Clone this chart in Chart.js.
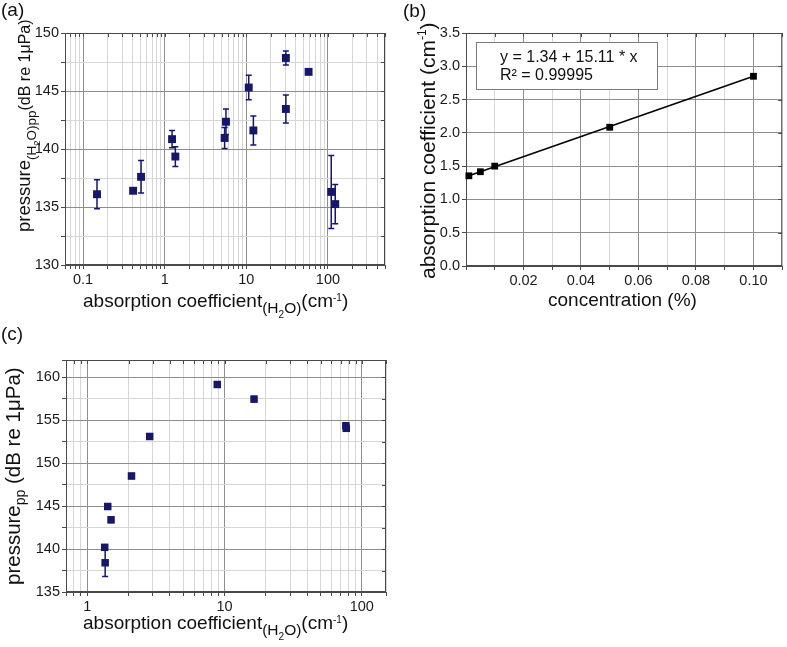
<!DOCTYPE html>
<html>
<head>
<meta charset="utf-8">
<script src="https://cdn.jsdelivr.net/npm/chart.js@4.4.1/dist/chart.umd.min.js"></script>
<style>
body { margin: 0; background: #fff; }
#wrap { position: relative; width: 787px; height: 647px; }
canvas { position: absolute; left: 0; top: 0; }
</style>
</head>
<body>
<div id="wrap">
<canvas id="ca" width="787" height="647"></canvas>
<canvas id="cb" width="787" height="647"></canvas>
<canvas id="cc" width="787" height="647"></canvas>
</div>
<script>
// panel (a): pressure vs absorption coefficient (log x)
let aX = [0.148, 0.41, 0.513, 1.23, 1.35, 5.42, 5.63, 10.7, 12.2, 30.5, 30.5, 57.9, 109.7, 122.8];
let aY = [136.1, 136.4, 137.6, 140.85, 139.35, 140.95, 142.35, 145.3, 141.6, 147.85, 143.45, 146.65, 136.3, 135.25];
let aErr = [1.25, 0.2, 1.4, 0.75, 0.85, 0.9, 1.1, 1.05, 1.25, 0.6, 1.2, 0.2, 3.15, 1.7];

// panel (b): absorption coefficient vs concentration + linear fit
let bX = [0.001, 0.005, 0.01, 0.05, 0.1];
let bY = [1.355, 1.416, 1.50, 2.084, 2.85];
let fitX = [0.001, 0.1];
let fitY = [1.355, 2.851];
let fitText = ['y = 1.34 + 15.11 * x', 'R\u00b2 = 0.99995'];

// panel (c)
let cX = [1.34, 1.35, 1.41, 1.49, 2.10, 2.85, 8.85, 16.4, 76.5, 77];
let cY = [140.2, 138.4, 144.95, 143.4, 148.5, 153.1, 159.15, 157.45, 154.35, 154.05];
let cErr = [0.3, 1.6, 0.3, 0.3, 0.3, 0.3, 0.3, 0.3, 0.3, 0.3];

// tick ranges
let aXRange = [0.06, 500];
let cXRange = [0.7, 150];
let logLabels = [0.1, 1, 10, 100];

const FONT = '"Liberation Sans", Arial, sans-serif';
const NAVY = '#16166a';
const MAJOR = '#8e8e8e';
const MINOR = '#d6d6d6';

function logTicks(min, max) {
    let out = [min];
    for (let e = -2; e <= 3; e++) {
        for (let s = 1; s <= 9; s++) {
            let v = +(s * Math.pow(10, e)).toPrecision(6);
            if (v > min && v < max) out.push(v);
        }
    }
    out.push(max);
    return out;
}
function isDecade(v) {
    let l = Math.log10(v);
    return Math.abs(l - Math.round(l)) < 1e-9;
}

function richText(ctx, parts, x, y, rot) {
    ctx.save();
    ctx.translate(x, y);
    if (rot) ctx.rotate(-Math.PI / 2);
    ctx.fillStyle = '#111';
    ctx.textBaseline = 'alphabetic';
    ctx.textAlign = 'left';
    let cx = 0;
    parts.forEach(p => {
        ctx.font = p[1] + 'px ' + FONT;
        ctx.fillText(p[0], cx, p[2]);
        cx += ctx.measureText(p[0]).width;
    });
    ctx.restore();
}

const errorBars = {
    id: 'errorBars',
    beforeDatasetsDraw(chart, args, opts) {
        if (!opts.err) return;
        const { ctx } = chart;
        const x = chart.scales.x, y = chart.scales.y;
        const pts = chart.data.datasets[0].data;
        ctx.save();
        ctx.strokeStyle = NAVY;
        ctx.lineWidth = 1.5;
        pts.forEach((p, i) => {
            let e = opts.err[i];
            if (!e) return;
            let px = x.getPixelForValue(p.x);
            let t = y.getPixelForValue(p.y + e), b = y.getPixelForValue(p.y - e);
            ctx.beginPath();
            ctx.moveTo(px, t); ctx.lineTo(px, b);
            ctx.moveTo(px - 3, t); ctx.lineTo(px + 3, t);
            ctx.moveTo(px - 3, b); ctx.lineTo(px + 3, b);
            ctx.stroke();
        });
        ctx.restore();
    }
};

const frame = {
    id: 'frame',
    beforeDatasetsDraw(chart) {
        const { ctx, chartArea: a } = chart;
        ctx.save();
        ctx.strokeStyle = '#4a4a4a';
        ctx.lineWidth = 1;
        ctx.strokeRect(a.left + 0.5, a.top + 0.5, a.right - a.left - 1, a.bottom - a.top - 1);
        ctx.beginPath();
        chart.scales.x.ticks.forEach(t => {
            let px = Math.round(chart.scales.x.getPixelForValue(t.value)) + 0.5;
            ctx.moveTo(px, a.top); ctx.lineTo(px, a.top + 4);
        });
        chart.scales.y.ticks.forEach(t => {
            let py = Math.round(chart.scales.y.getPixelForValue(t.value)) + 0.5;
            ctx.moveTo(a.right, py); ctx.lineTo(a.right - 4, py);
        });
        ctx.stroke();
        ctx.restore();
    }
};

const texts = {
    id: 'texts',
    afterDraw(chart, args, opts) {
        const ctx = chart.ctx;
        if (opts.box) {
            let b = opts.box;
            ctx.save();
            ctx.fillStyle = '#fff';
            ctx.strokeStyle = '#7a7a7a';
            ctx.lineWidth = 1;
            ctx.fillRect(b[0], b[1], b[2], b[3]);
            ctx.strokeRect(b[0] + 0.5, b[1] + 0.5, b[2], b[3]);
            ctx.restore();
        }
        (opts.items || []).forEach(it => richText(ctx, it.parts, it.x, it.y, it.rot));
    }
};

function gridColor(major) {
    return c => (c.tick && major(c.tick.value)) ? MAJOR : MINOR;
}

function axisBase(extra) {
    return Object.assign({
        border: { display: true, color: '#4a4a4a' },
        grid: { tickLength: 4, tickColor: '#4a4a4a', lineWidth: 1 },
        ticks: { color: '#1a1a1a', font: { family: FONT, size: 14.5 }, autoSkip: false, maxRotation: 0, padding: 2 }
    }, extra);
}

function makeChart(id, cfg) {
    return new Chart(document.getElementById(id), {
        type: 'scatter',
        data: { datasets: cfg.datasets },
        options: {
            responsive: false,
            animation: false,
            events: [],
            layout: { padding: cfg.pad },
            plugins: { legend: { display: false }, tooltip: { enabled: false },
                errorBars: { err: cfg.err }, texts: cfg.texts },
            scales: { x: cfg.x, y: cfg.y }
        },
        plugins: [frame, errorBars, texts]
    });
}

// ---------- (a)
let aTicks = logTicks(aXRange[0], aXRange[1]);
let chartA = makeChart('ca', {
    pad: { left: 25, right: 402, top: 33, bottom: 354 },
    datasets: [{
        data: aX.map((x, i) => ({ x: x, y: aY[i] })),
        pointStyle: 'rect', pointRadius: 5.6, borderWidth: 0,
        backgroundColor: NAVY, clip: false
    }],
    err: aErr,
    x: axisBase({
        type: 'logarithmic', min: aXRange[0], max: aXRange[1],
        afterBuildTicks: s => { s.ticks = aTicks.map(v => ({ value: v })); },
        afterFit: s => { s.height = 28; },
        grid: { tickLength: 4, tickColor: '#4a4a4a', color: gridColor(isDecade) },
        ticks: { color: '#1a1a1a', font: { family: FONT, size: 14.5 }, autoSkip: false, maxRotation: 0, padding: 2,
            callback: v => logLabels.includes(v) ? String(v) : '' }
    }),
    y: axisBase({
        type: 'linear', min: 130, max: 150,
        afterFit: s => { s.width = 40; },
        grid: { tickLength: 4, tickColor: '#4a4a4a', color: gridColor(v => v % 5 === 0) },
        ticks: { color: '#1a1a1a', font: { family: FONT, size: 14.5 }, stepSize: 2.5, padding: 2,
            callback: v => v % 5 === 0 ? String(v) : '' }
    }),
    texts: { items: [
        { parts: [['(a)', 19, 0]], x: 1, y: 16 },
        { parts: [['absorption coefficient', 19, 0], ['(H', 15.5, 6], ['2', 10, 11], ['O)', 15.5, 6], ['(cm', 19, 0], ['-1', 10, -6], [')', 19, 0]], x: 83, y: 307 },
        { parts: [['pressure', 18.5, 0], ['(H', 13.5, 6], ['2', 9.5, 10], ['O)pp', 13.5, 6], ['(dB re 1\u03bcPa)', 16, 0]], x: 30, y: 232, rot: true }
    ] }
});

// ---------- (b)
let chartB = makeChart('cb', {
    pad: { left: 426, right: 2, top: 33, bottom: 353 },
    datasets: [{
        data: bX.map((x, i) => ({ x: x, y: bY[i] })),
        pointStyle: 'rect', pointRadius: 4.8, borderWidth: 0,
        backgroundColor: '#000', clip: false
    }, {
        data: fitX.map((x, i) => ({ x: x, y: fitY[i] })),
        showLine: true, borderColor: '#000', borderWidth: 1.5, pointRadius: 0
    }],
    x: axisBase({
        type: 'linear', min: 0, max: 0.11,
        afterFit: s => { s.height = 28; },
        grid: { tickLength: 4, tickColor: '#4a4a4a', color: gridColor(v => Math.round(v * 100) % 2 === 0) },
        ticks: { color: '#1a1a1a', font: { family: FONT, size: 14.5 }, stepSize: 0.01, autoSkip: false, maxRotation: 0, padding: 2,
            callback: v => { let k = Math.round(v * 100); return (k > 0 && k % 2 === 0) ? (k / 100).toFixed(2) : ''; } }
    }),
    y: axisBase({
        type: 'linear', min: 0, max: 3.5,
        afterFit: s => { s.width = 40; },
        grid: { tickLength: 4, tickColor: '#4a4a4a', color: gridColor(v => Math.round(v * 4) % 2 === 0) },
        ticks: { color: '#1a1a1a', font: { family: FONT, size: 14.5 }, stepSize: 0.25, padding: 2,
            callback: v => Math.round(v * 4) % 2 === 0 ? v.toFixed(1) : '' }
    }),
    texts: {
        box: [476, 42, 181, 47],
        items: [
            { parts: [['(b)', 19, 0]], x: 403, y: 17 },
            { parts: [[fitText[0], 16, 0]], x: 500, y: 62 },
            { parts: [[fitText[1], 16, 0]], x: 500, y: 80 },
            { parts: [['concentration (%)', 19, 0]], x: 548, y: 306 },
            { parts: [['absorption coefficient (cm', 21, 0], ['-1', 12, -9], [')', 21, 0]], x: 435, y: 279, rot: true }
        ]
    }
});

// ---------- (c)
let cTicks = logTicks(cXRange[0], cXRange[1]);
let chartC = makeChart('cc', {
    pad: { left: 26, right: 401, top: 360, bottom: 27 },
    datasets: [{
        data: cX.map((x, i) => ({ x: x, y: cY[i] })),
        pointStyle: 'rect', pointRadius: 5.3, borderWidth: 0,
        backgroundColor: NAVY, clip: false
    }],
    err: cErr,
    x: axisBase({
        type: 'logarithmic', min: cXRange[0], max: cXRange[1],
        afterBuildTicks: s => { s.ticks = cTicks.map(v => ({ value: v })); },
        afterFit: s => { s.height = 28; },
        grid: { tickLength: 4, tickColor: '#4a4a4a', color: gridColor(isDecade) },
        ticks: { color: '#1a1a1a', font: { family: FONT, size: 14.5 }, autoSkip: false, maxRotation: 0, padding: 2,
            callback: v => logLabels.includes(v) ? String(v) : '' }
    }),
    y: axisBase({
        type: 'linear', min: 135, max: 162,
        afterFit: s => { s.width = 40; },
        grid: { tickLength: 4, tickColor: '#4a4a4a', color: gridColor(v => v % 5 === 0) },
        ticks: { color: '#1a1a1a', font: { family: FONT, size: 14.5 }, stepSize: 2.5, padding: 2,
            callback: v => v % 5 === 0 ? String(v) : '' }
    }),
    texts: { items: [
        { parts: [['(c)', 19, 0]], x: 1, y: 340 },
        { parts: [['absorption coefficient', 19, 0], ['(H', 15.5, 6], ['2', 10, 11], ['O)', 15.5, 6], ['(cm', 19, 0], ['-1', 10, -6], [')', 19, 0]], x: 83, y: 629 },
        { parts: [['pressure', 20.5, 0], ['pp', 14, 5], [' (dB re 1\u03bcPa)', 20.5, 0]], x: 20, y: 585, rot: true }
    ] }
});
</script>
</body>
</html>
